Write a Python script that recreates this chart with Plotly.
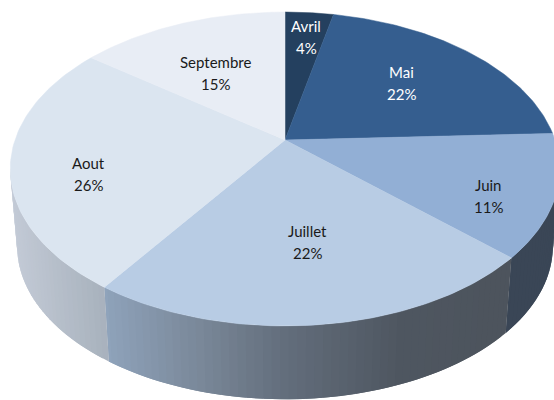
import numpy as np
import plotly.graph_objects as go

# Data
months = ["Avril", "Mai", "Juin", "Juillet", "Aout", "Septembre"]
percent_labels = ["4%", "22%", "11%", "22%", "26%", "15%"]
drawn_shares = [3.4, 20.9, 12.6, 22.7, 25.7, 14.7]

# Styling
top_colors = ["#24405f", "#355e8f", "#92afd5", "#b8cce4", "#dbe5f0", "#e8edf5"]
text_colors = ["#ffffff", "#ffffff", "#1a1a1a", "#1a1a1a", "#1a1a1a", "#1a1a1a"]
side_stops = {
    2: ([505, 560], ["#3a4656", "#3a4656"]),
    3: ([105, 200, 285, 400, 510], ["#8fa3bb", "#7a8899", "#636e7c", "#4f5761", "#4d545d"]),
    4: ([5, 105], ["#c5ccd8", "#a8b2bd"]),
}
label_centers = [(306, 37), (401, 83), (488, 196), (307, 242), (88, 174), (215, 73)]
LINE_GAP = 22

# Perspective projection of the disc
CX, TOP_CY, BOT_CY = 285, 140, 218
RX, RY, P, BOT_SCALE = 270, 151.6, 0.1847, 0.975


def project(theta_deg, cy=TOP_CY, scale=1.0):
    t = np.radians(theta_deg)
    u, v = np.sin(t), -np.cos(t)
    w = 1 - P * v
    return CX + scale * RX * u / w, cy + scale * RY * v / w


def rgb(h):
    return np.array([int(h[i:i + 2], 16) for i in (1, 3, 5)], float)


def side_color(i, x):
    xs, cols = side_stops[i]
    arr = np.array([rgb(c) for c in cols])
    c = [np.interp(x, xs, arr[:, k]) for k in range(3)]
    return "rgb(%d,%d,%d)" % tuple(c)


edges = np.concatenate([[0], np.cumsum(drawn_shares)]) / sum(drawn_shares) * 360
fig = go.Figure()

SIL_A, SIL_B = 100.6, 259.4
for i in range(len(months)):
    if i not in side_stops:
        continue
    a, b = max(edges[i], SIL_A), min(edges[i + 1], SIL_B)
    step = 1.5
    # each strip runs on under the next one, so no seams show
    starts = np.arange(a, b, step)
    for t0 in starts:
        tt = np.linspace(t0, b if t0 + 2 * step > b else t0 + 2 * step, 4)
        x1, y1 = project(tt)
        x2, y2 = project(tt, BOT_CY, BOT_SCALE)
        col = side_color(i, float(project(t0 + step / 2)[0]))
        fig.add_trace(go.Scatter(
            x=np.r_[x1, x2[::-1], x1[0]], y=np.r_[y1, y2[::-1], y1[0]],
            mode="lines", fill="toself", fillcolor=col,
            line=dict(color=col, width=0), hoverinfo="skip", showlegend=False))

for i, m in enumerate(months):
    tt = np.linspace(edges[i], edges[i + 1], 80)
    x, y = project(tt)
    fig.add_trace(go.Scatter(
        x=np.r_[CX, x, CX], y=np.r_[TOP_CY, y, TOP_CY],
        mode="lines", fill="toself", fillcolor=top_colors[i], name=m,
        line=dict(color=top_colors[i], width=0.5), showlegend=False,
        hovertemplate=f"{m} {percent_labels[i]}<extra></extra>"))

annotations = []
for i, m in enumerate(months):
    lx, ly = label_centers[i]
    for text, dy in ((m, -LINE_GAP / 2), (percent_labels[i], LINE_GAP / 2)):
        annotations.append(dict(x=lx, y=ly + dy, text=text, showarrow=False,
                                xref="x", yref="y", xanchor="center", yanchor="middle",
                                font=dict(family="Lato", size=15, color=text_colors[i])))

fig.update_layout(
    width=554, height=400, margin=dict(l=0, r=0, t=0, b=0),
    paper_bgcolor="white", plot_bgcolor="white", annotations=annotations,
    xaxis=dict(range=[0, 554], visible=False, fixedrange=True),
    yaxis=dict(range=[400, 0], visible=False, fixedrange=True),
)
fig.write_html("out.html", config={"displayModeBar": False},
               post_script="document.body.style.margin='0';document.body.style.overflow='hidden';")
